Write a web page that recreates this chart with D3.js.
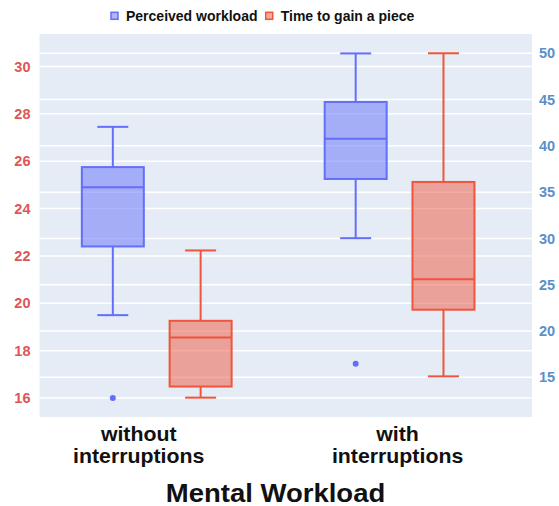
<!DOCTYPE html>
<html>
<head>
<meta charset="utf-8">
<script src="https://cdn.jsdelivr.net/npm/d3@7"></script>
<style>
  body { margin: 0; background: #fff; }
  text { font-family: "Liberation Sans", Arial, sans-serif; }
</style>
</head>
<body>
<svg id="chart" width="559" height="506"></svg>
<script>
// Groups and series
const categories = ["without interruptions", "with interruptions"];
const categoryLines = [["without", "interruptions"], ["with", "interruptions"]];
const series = ["Perceived workload", "Time to gain a piece"];

// Box statistics per group: [lowerWhisker, q1, median, q3, upperWhisker]
const workloadStats = [
  [19.5, 22.4, 24.9, 25.75, 27.45],
  [22.75, 25.25, 26.95, 28.5, 30.55]
];
const workloadOutliers = [[16.0], [17.45]];

const timeStats = [
  [12.8, 14.0, 19.3, 21.1, 28.7],
  [15.1, 22.3, 25.6, 36.1, 50.0]
];
const timeOutliers = [[], []];

// Axis ticks
const leftTicks = [16, 18, 20, 22, 24, 26, 28, 30];
const rightTicks = [15, 20, 25, 30, 35, 40, 45, 50];

const colors = ["#636efa", "#ef553b"];

const svg = d3.select("#chart");
const plot = { left: 39.5, right: 532, top: 34, bottom: 417 };

// Plot background
svg.append("rect")
  .attr("x", plot.left).attr("y", plot.top)
  .attr("width", plot.right - plot.left).attr("height", plot.bottom - plot.top)
  .attr("fill", "#e5ecf6");

const yLeft = d3.scaleLinear().domain([15.2, 31.37]).range([plot.bottom, plot.top]);
const yRight = d3.scaleLinear().domain([10.71, 52.08]).range([plot.bottom, plot.top]);

const x0 = d3.scaleBand().domain(categories).range([35.3, 521]).padding(0);
const x1 = d3.scaleBand().domain(series).range([0, x0.bandwidth()])
  .paddingInner(0.294).paddingOuter(0.53);

// Gridlines for both axes
const grid = svg.append("g");
grid.selectAll("line.gl").data(leftTicks).join("line")
  .attr("x1", plot.left).attr("x2", plot.right)
  .attr("y1", d => yLeft(d)).attr("y2", d => yLeft(d))
  .attr("stroke", "#fff").attr("stroke-width", 1.5);
grid.selectAll("line.gr").data(rightTicks).join("line")
  .attr("class", "gr")
  .attr("x1", plot.left).attr("x2", plot.right)
  .attr("y1", d => yRight(d)).attr("y2", d => yRight(d))
  .attr("stroke", "#fff").attr("stroke-width", 1.5);

// Axes
const axL = svg.append("g").attr("transform", `translate(${plot.left},0)`)
  .call(d3.axisLeft(yLeft).tickValues(leftTicks).tickSize(0).tickPadding(9));
axL.select(".domain").remove();
axL.selectAll("text").attr("fill", "#de5656").attr("font-size", 14.5)
  .attr("font-weight", "bold").style("font-family", "Liberation Sans, Arial, sans-serif");

const axR = svg.append("g").attr("transform", `translate(${plot.right},0)`)
  .call(d3.axisRight(yRight).tickValues(rightTicks).tickSize(0).tickPadding(7));
axR.select(".domain").remove();
axR.selectAll("text").attr("fill", "#5a8fc8").attr("font-size", 14.5)
  .attr("font-weight", "bold").style("font-family", "Liberation Sans, Arial, sans-serif");

// Box plots
function drawBoxes(stats, outliers, yScale, seriesName, color) {
  const g = svg.append("g");
  const bw = x1.bandwidth();
  stats.forEach((s, i) => {
    const cx = x0(categories[i]) + x1(seriesName) + bw / 2;
    const [lo, q1, med, q3, hi] = s;
    // whiskers
    g.append("line").attr("x1", cx).attr("x2", cx)
      .attr("y1", yScale(hi)).attr("y2", yScale(q3))
      .attr("stroke", color).attr("stroke-width", 2);
    g.append("line").attr("x1", cx).attr("x2", cx)
      .attr("y1", yScale(q1)).attr("y2", yScale(lo))
      .attr("stroke", color).attr("stroke-width", 2);
    [hi, lo].forEach(v => {
      g.append("line").attr("x1", cx - bw / 4).attr("x2", cx + bw / 4)
        .attr("y1", yScale(v)).attr("y2", yScale(v))
        .attr("stroke", color).attr("stroke-width", 2);
    });
    // box
    g.append("rect")
      .attr("x", cx - bw / 2).attr("width", bw)
      .attr("y", yScale(q3)).attr("height", yScale(q1) - yScale(q3))
      .attr("fill", color).attr("fill-opacity", 0.5)
      .attr("stroke", color).attr("stroke-width", 2);
    // median
    g.append("line").attr("x1", cx - bw / 2).attr("x2", cx + bw / 2)
      .attr("y1", yScale(med)).attr("y2", yScale(med))
      .attr("stroke", color).attr("stroke-width", 2);
    // outliers
    g.selectAll(null).data(outliers[i]).join("circle")
      .attr("cx", cx).attr("cy", d => yScale(d)).attr("r", 3)
      .attr("fill", color);
  });
}
drawBoxes(workloadStats, workloadOutliers, yLeft, series[0], colors[0]);
drawBoxes(timeStats, timeOutliers, yRight, series[1], colors[1]);

// Category labels (slightly widened bold type)
const labelShift = [-18, -2];
categoryLines.forEach((lines, i) => {
  const cx = x0(categories[i]) + x0.bandwidth() / 2 + labelShift[i];
  const t = svg.append("text")
    .attr("transform", `translate(${cx},440.5) scale(1.065,1)`)
    .attr("text-anchor", "middle")
    .attr("font-size", 20).attr("font-weight", "bold").attr("fill", "#111");
  lines.forEach((ln, j) => {
    t.append("tspan")
      .attr("x", 0)
      .attr("dy", j === 0 ? 0 : 22.6)
      .text(ln);
  });
});

// Axis title
svg.append("text")
  .attr("transform", "translate(275.5,501.5) scale(1.1,1)")
  .attr("text-anchor", "middle")
  .attr("font-size", 25).attr("font-weight", "bold").attr("fill", "#111")
  .text("Mental Workload");

// Legend
const legend = svg.append("g");
const legendX = [111, 265.7];
series.forEach((name, i) => {
  legend.append("rect")
    .attr("x", legendX[i]).attr("y", 12.3).attr("width", 7).attr("height", 7)
    .attr("fill", colors[i]).attr("fill-opacity", 0.5)
    .attr("stroke", colors[i]).attr("stroke-width", 1.5);
  legend.append("text")
    .attr("x", legendX[i] + 15).attr("y", 21)
    .attr("font-size", 14).attr("font-weight", "bold").attr("fill", "#111")
    .text(name);
});
</script>
</body>
</html>
